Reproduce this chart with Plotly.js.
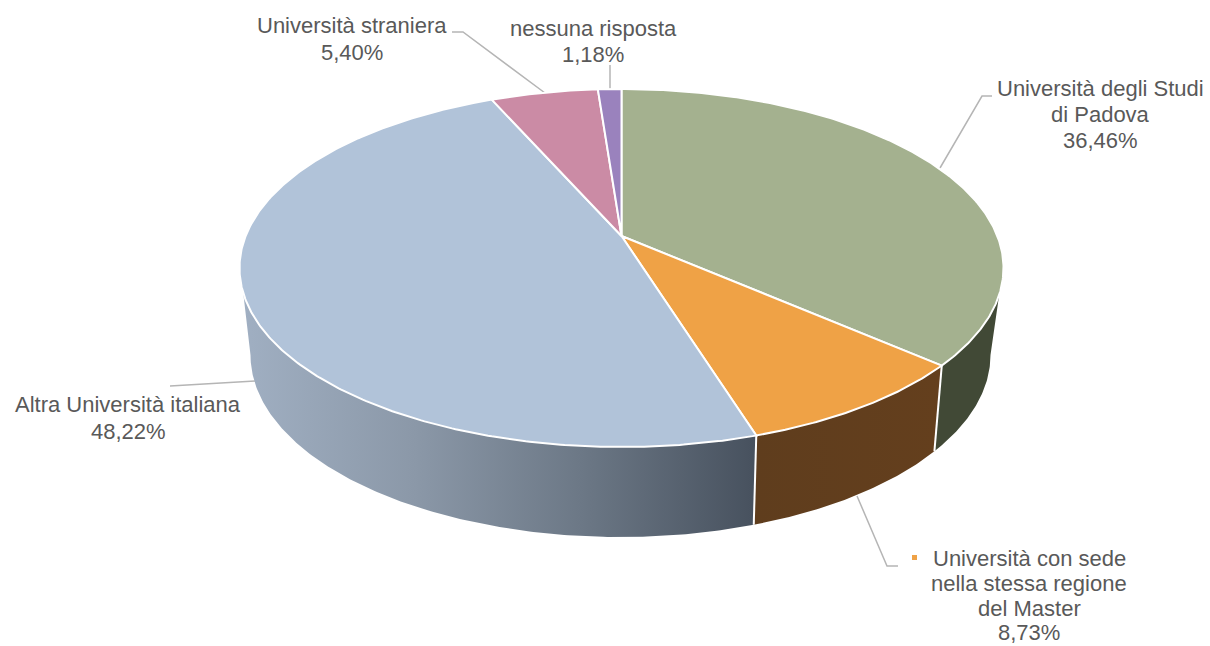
<!DOCTYPE html>
<html>
<head>
<meta charset="utf-8">
<script src="https://cdn.plot.ly/plotly-3.0.1.min.js"></script>
<style>html,body{margin:0;padding:0;background:#fff}#chart{width:1210px;height:646px}</style>
</head>
<body>
<div id="chart"></div>
<script>
const categoryLines = [["Università degli Studi", "di Padova"], ["Università con sede", "nella stessa regione", "del Master"], ["Altra Università italiana"], ["Università straniera"], ["nessuna risposta"]];
const shares = [36.46, 8.73, 48.22, 5.40, 1.18];
const capColors = ["#a4b18f", "#efa246", "#b1c3d9", "#cb8ba5", "#9a82bd"];

// Perspective view of the disc: the same tilt Excel's 3-D pie uses
function rim(cx, top, bottom, halfWidth, k) {
  const c = halfWidth * Math.sqrt(1 - k * k);
  const bMinusA = top * (1 - k), bPlusA = bottom * (1 + k);
  const b = (bMinusA + bPlusA) / 2, a = (bPlusA - bMinusA) / 2;
  const at = deg => {
    const t = deg * Math.PI / 180, u = Math.sin(t), v = -Math.cos(t), w = 1 + k * v;
    return [cx + c * u / w, (b + a * v) / w];
  };
  at.apex = [cx, b];
  return at;
}
const topRim = rim(621.5, 89, 447, 382, -0.1788);
const lowRim = rim(620.5, 173, 537, 370, -0.2);

function arc(fn, from, to) {
  const n = Math.max(2, Math.ceil(Math.abs(to - from) * 2)), pts = [];
  for (let i = 0; i <= n; i++) pts.push(fn(from + (to - from) * i / n));
  return pts;
}
function xy(pts) { return {x: pts.map(p => p[0]), y: pts.map(p => p[1])}; }

const total = shares.reduce((s, v) => s + v, 0);
const edges = [0];
shares.forEach(v => edges.push(edges[edges.length - 1] + v / total * 360));

const traces = [];
function wall(lowFrom, lowTo, topFrom, topTo, gradient, name) {
  const p = xy(arc(lowRim, lowFrom, lowTo).concat(arc(topRim, topFrom, topTo)));
  traces.push({type: "scatter", mode: "lines", x: p.x, y: p.y, fill: "toself",
    line: {width: 0, color: "rgba(0,0,0,0)"}, hoverinfo: "skip", showlegend: false, name,
    fillcolor: gradient[0], fillgradient: {type: "horizontal", colorscale: gradient.map((c, i) => [i / (gradient.length - 1), c])}});
}
wall(101.5, edges[1], edges[1], 108.7, ["#414936", "#414936"], "wall1");
wall(edges[1], edges[2], edges[2], edges[1], ["#5f3d1d", "#643f1d"], "wall2");
wall(edges[2], 258.5, 251.9, edges[2], ["#47515e", "#6b7785", "#8b98a8", "#a0afc2"].reverse(), "wall3");

[edges[1], edges[2]].forEach(e => {
  const p = xy([topRim(e), lowRim(e)]);
  traces.push({type: "scatter", mode: "lines", x: p.x, y: p.y, line: {color: "#ffffff", width: 2}, hoverinfo: "skip", showlegend: false});
});

shares.forEach((v, i) => {
  const p = xy([topRim.apex].concat(arc(topRim, edges[i], edges[i + 1]), [topRim.apex]));
  traces.push({type: "scatter", mode: "lines", x: p.x, y: p.y, fill: "toself", fillcolor: capColors[i],
    line: {color: "#ffffff", width: 2}, name: categoryLines[i].join(" "),
    text: v.toFixed(2).replace(".", ",") + "%", hoverinfo: "name+text", showlegend: false});
});

// Small orange legend key printed beside the Master label
traces.push({type: "scatter", mode: "markers", x: [914.5], y: [557.5], marker: {symbol: "square", size: 5, color: "#efa246"}, hoverinfo: "skip", showlegend: false});

const labelCentres = [1100, 1029, 128, 352, 593];
const labelLineRows = [[88, 114, 140], [558, 583.5, 608.5, 632], [404, 431], [25, 52], [28, 54]];
const leaders = [
  [[940, 168], [982, 96], [992, 96]],
  [[857, 496], [887, 566], [898, 566]],
  [[255, 381], [170, 386]],
  [[452, 32], [463, 32], [545, 93]],
  [[610, 65], [610, 90]]
];

const annotations = [];
categoryLines.forEach((lines, i) => {
  lines.concat([shares[i].toFixed(2).replace(".", ",") + "%"]).forEach((t, j) => {
    annotations.push({xref: "x", yref: "y", x: labelCentres[i], y: labelLineRows[i][j], showarrow: false,
      xanchor: "center", yanchor: "middle", text: t,
      font: {family: "Liberation Sans, Arial, sans-serif", size: 22, color: "#595959"}});
  });
});

const layout = {
  width: 1210, height: 646, margin: {l: 0, r: 0, t: 0, b: 0},
  paper_bgcolor: "#ffffff", plot_bgcolor: "#ffffff", showlegend: false,
  xaxis: {range: [0, 1210], visible: false, fixedrange: true},
  yaxis: {range: [646, 0], visible: false, fixedrange: true},
  shapes: leaders.map(l => ({type: "path", xref: "x", yref: "y", layer: "below",
    path: l.map((p, i) => (i ? "L" : "M") + p[0] + " " + p[1]).join(" "),
    line: {color: "#b5b5b5", width: 1.5}})),
  annotations
};
Plotly.newPlot("chart", traces, layout, {displayModeBar: false});
</script>
</body>
</html>
